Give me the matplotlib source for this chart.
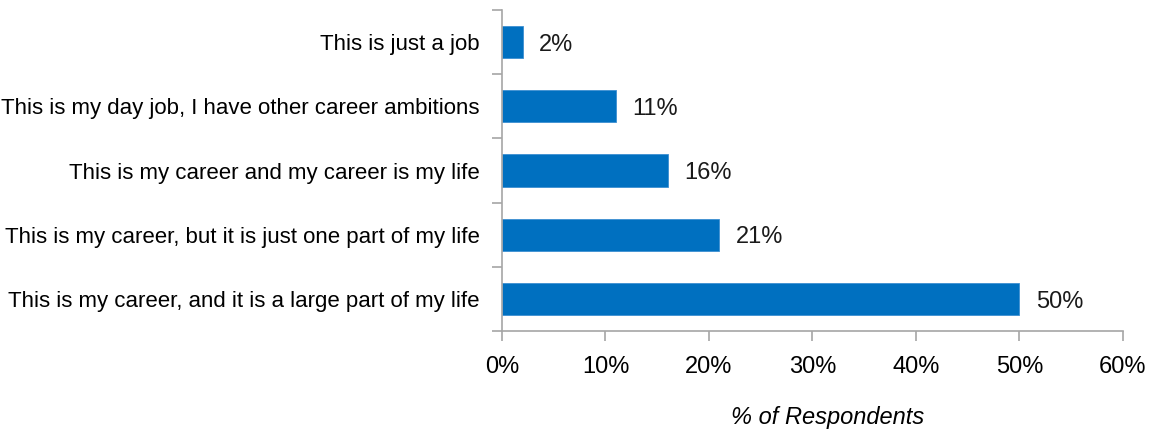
import matplotlib
matplotlib.use("Agg")
import matplotlib.pyplot as plt
from matplotlib.ticker import FuncFormatter

# survey answers, bottom to top
answers = [
    "This is my career, and it is a large part of my life",
    "This is my career, but it is just one part of my life",
    "This is my career and my career is my life",
    "This is my day job, I have other career ambitions",
    "This is just a job",
]
shares = [50, 21, 16, 11, 2]
x_ticks = [0, 10, 20, 30, 40, 50, 60]

plt.rcParams['font.family'] = ['Liberation Sans', 'DejaVu Sans']
plt.rcParams['font.size'] = 17

blue = '#0070C0'
axis_grey = '#A6A6A6'

fig = plt.figure(figsize=(11.5, 4.3), dpi=100)
ax = fig.add_axes([0.4365, 0.2302, 0.54, 0.7465])

pos = list(range(len(answers)))
ax.barh(pos, shares, height=0.5, color=blue, edgecolor='#3D8FD1', linewidth=0.6)

for p, v in zip(pos, shares):
    ax.annotate(f"{v}%", (v, p), xytext=(12, -2), textcoords='offset points',
                va='center', ha='left', color='#1a1a1a')

ax.set_xlim(0, 60)
ax.set_ylim(-0.5, len(answers) - 0.5)
ax.set_xticks(x_ticks)
ax.xaxis.set_major_formatter(FuncFormatter(lambda v, _: f"{v:.0f}%"))

# category boundaries get the tick marks, labels sit in between
ax.set_yticks([p - 0.5 for p in pos] + [len(answers) - 0.5])
ax.set_yticklabels([])
ax.set_yticks(pos, minor=True)
ax.set_yticklabels(answers, minor=True, fontsize=16)
ax.tick_params(axis='y', which='minor', length=0, pad=16)
ax.tick_params(axis='y', which='major', length=7, color=axis_grey, width=1.2)
ax.tick_params(axis='x', length=7, color=axis_grey, width=1.2, pad=11)

for s in ['top', 'right']:
    ax.spines[s].set_visible(False)
for s in ['left', 'bottom']:
    ax.spines[s].set_color(axis_grey)
    ax.spines[s].set_linewidth(1.2)

ax.set_xlabel("% of Respondents", style='italic')
ax.xaxis.set_label_coords(0.525, -0.235)

fig.savefig("out.png", dpi=100)
